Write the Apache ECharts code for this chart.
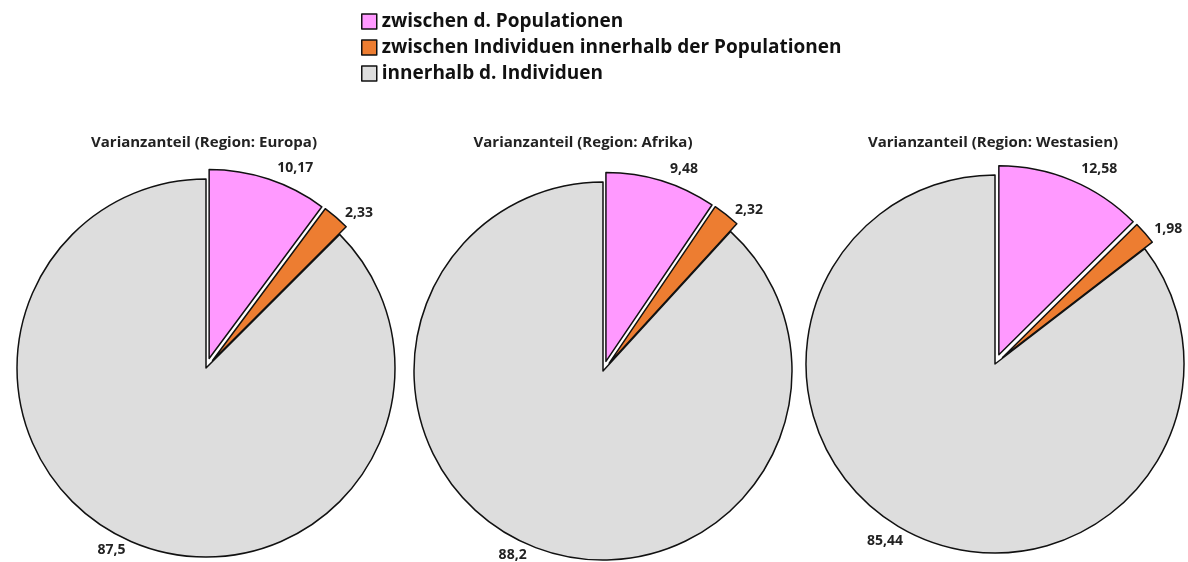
<!DOCTYPE html>
<html>
<head>
<meta charset="utf-8">
<script src="https://cdn.jsdelivr.net/npm/echarts@6/dist/echarts.min.js"></script>
<style>
  html, body { margin: 0; padding: 0; background: #fff; }
  #chart { width: 1188px; height: 562px; }
</style>
</head>
<body>
<div id="chart"></div>
<script>
var categories = ['zwischen d. Populationen', 'zwischen Individuen innerhalb der Populationen', 'innerhalb d. Individuen'];
var regions = ['Europa', 'Afrika', 'Westasien'];
var europa = [10.17, 2.33, 87.5];
var afrika = [9.48, 2.32, 88.2];
var westasien = [12.58, 1.98, 85.44];

var colors = ['#ff99ff', '#ed7d31', '#dddddd'];
var centers = [[206, 368], [603, 371], [995, 364]];
var titleX = [199, 578, 988];
var labelLen = [12, 6, 8];
var font = '"Open Sans", Lato, sans-serif';

var myChart = echarts.init(document.getElementById('chart'), null, { renderer: 'canvas' });

function buildData(values) {
	return values.map(function (v, i) {
		return { name: categories[i], value: v, selected: i < 2, labelLine: { length: labelLen[i] } };
	});
}

var allValues = [europa, afrika, westasien];

var series = allValues.map(function (vals, k) {
	return {
		name: regions[k],
		type: 'pie',
		center: centers[k],
		radius: 189,
		startAngle: 90,
		clockwise: true,
		selectedMode: 'multiple',
		selectedOffset: 10,
		avoidLabelOverlap: false,
		itemStyle: { borderColor: '#111', borderWidth: 1.5 },
		label: {
			show: true,
			position: 'outside',
			color: '#222',
			fontFamily: font,
			fontWeight: 'bold',
			fontSize: 14,
			formatter: function (p) { return String(p.value).replace('.', ','); }
		},
		labelLine: { show: false, length: 10, length2: 0 },
		emphasis: { disabled: true },
		data: buildData(vals)
	};
});

var option = {
	animation: false,
	color: colors,
	title: regions.map(function (r, k) {
		return {
			text: 'Varianzanteil (Region: ' + r + ')',
			left: titleX[k],
			top: 130,
			textAlign: 'center',
			textStyle: { fontFamily: font, fontWeight: 'bold', fontSize: 15, color: '#222' }
		};
	}),
	legend: {
		orient: 'vertical',
		left: 356,
		top: 6,
		icon: 'rect',
		itemWidth: 15,
		itemHeight: 15,
		itemGap: 5,
		selectedMode: false,
		itemStyle: { borderColor: '#111', borderWidth: 1.5 },
		textStyle: { fontFamily: font, fontWeight: 'bold', fontSize: 19, color: '#111', lineHeight: 21 },
		data: categories
	},
	series: series
};
myChart.setOption(option);
</script>
</body>
</html>
